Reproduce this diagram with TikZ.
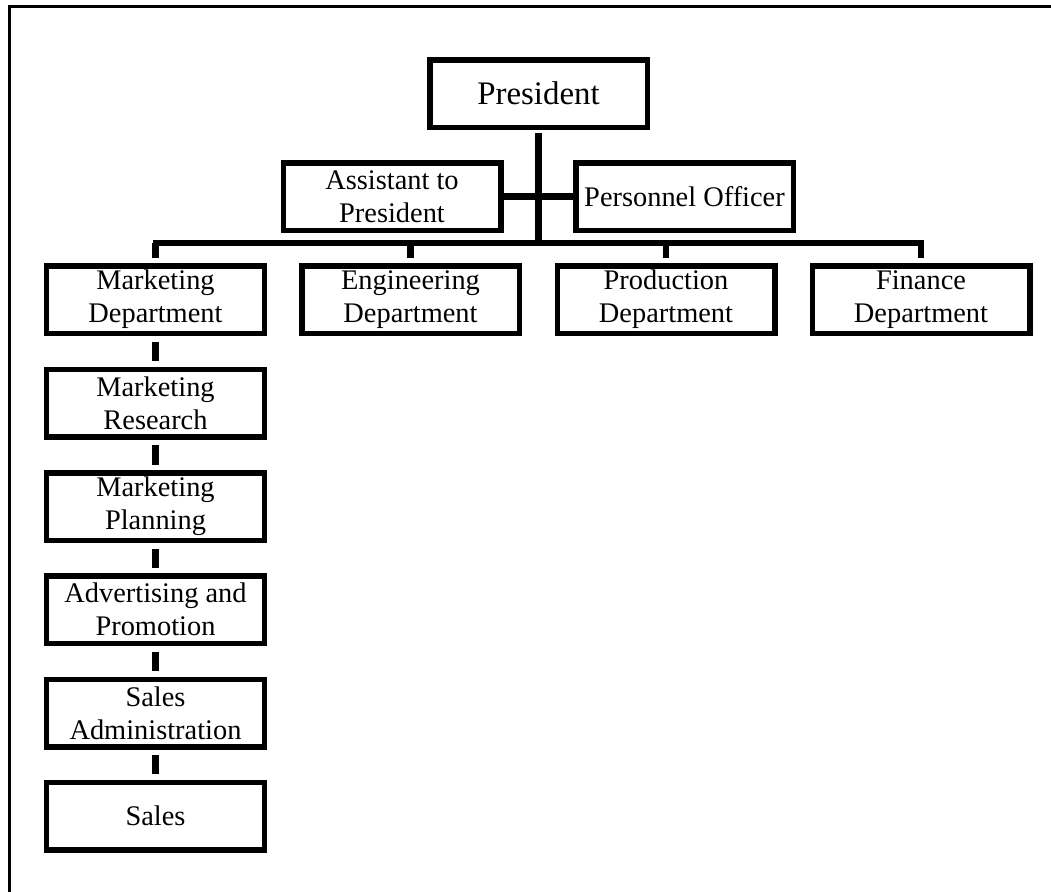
\documentclass[tikz,border=0pt]{standalone}
\usepackage{fontspec}
\setmainfont{Liberation Serif}
\begin{document}
\begin{tikzpicture}[x=1bp,y=-1bp,
  box/.style={draw=black,line width=5.5bp,fill=white,minimum width=217.5bp,minimum height=67.5bp,
    inner sep=0pt,align=center,font=\fontsize{28.5}{33}\selectfont},
  conn/.style={draw=black,line width=6.5bp},
  chain/.style={conn,shorten <=5.5bp,shorten >=5.5bp}]
\useasboundingbox (0,0) rectangle (1051,892);
\draw[line width=2.3bp] (9.5,892) -- (9.5,6.5) -- (1051,6.5);
% top level
\node[box,font=\fontsize{33}{38}\selectfont] (pres) at (538.5,93.5) {President};
\node[box] (asst) at (392,196.5) {Assistant to\\President};
\node[box] (pers) at (684.5,196.5) {Personnel Officer};
% departments
\node[box] (mkt) at (155.5,299.5) {Marketing\\Department};
\node[box] (eng) at (410.5,299.5) {Engineering\\Department};
\node[box] (prod) at (666,299.5) {Production\\Department};
\node[box] (fin) at (921,299.5) {Finance\\Department};
% marketing chain
\node[box] (res) at (155.5,403) {Marketing\\Research};
\node[box] (plan) at (155.5,506.5) {Marketing\\Planning};
\node[box] (adv) at (155.5,609.5) {Advertising and\\Promotion};
\node[box] (sadm) at (155.5,713) {Sales\\Administration};
\node[box] (sales) at (155.5,816) {Sales};
% bus
\coordinate (busL) at (155.5,243);
\coordinate (busR) at (921,243);
\coordinate (trunk) at (538.5,243);
\draw[conn] (asst.east) -- (pers.west);
\draw[conn,shorten <=3bp] (pres.south) -- (trunk);
\draw[conn,line cap=rect,line width=6bp] (busL) -- (busR);
\draw[conn,shorten >=5.5bp] (busL) -- (mkt.north);
\draw[conn,shorten >=5.5bp] (eng.north |- busL) -- (eng.north);
\draw[conn,shorten >=5.5bp] (prod.north |- busL) -- (prod.north);
\draw[conn,shorten >=5.5bp] (busR) -- (fin.north);
\draw[chain] (mkt.south) -- (res.north);
\draw[chain] (res.south) -- (plan.north);
\draw[chain] (plan.south) -- (adv.north);
\draw[chain] (adv.south) -- (sadm.north);
\draw[chain] (sadm.south) -- (sales.north);
\end{tikzpicture}
\end{document}
